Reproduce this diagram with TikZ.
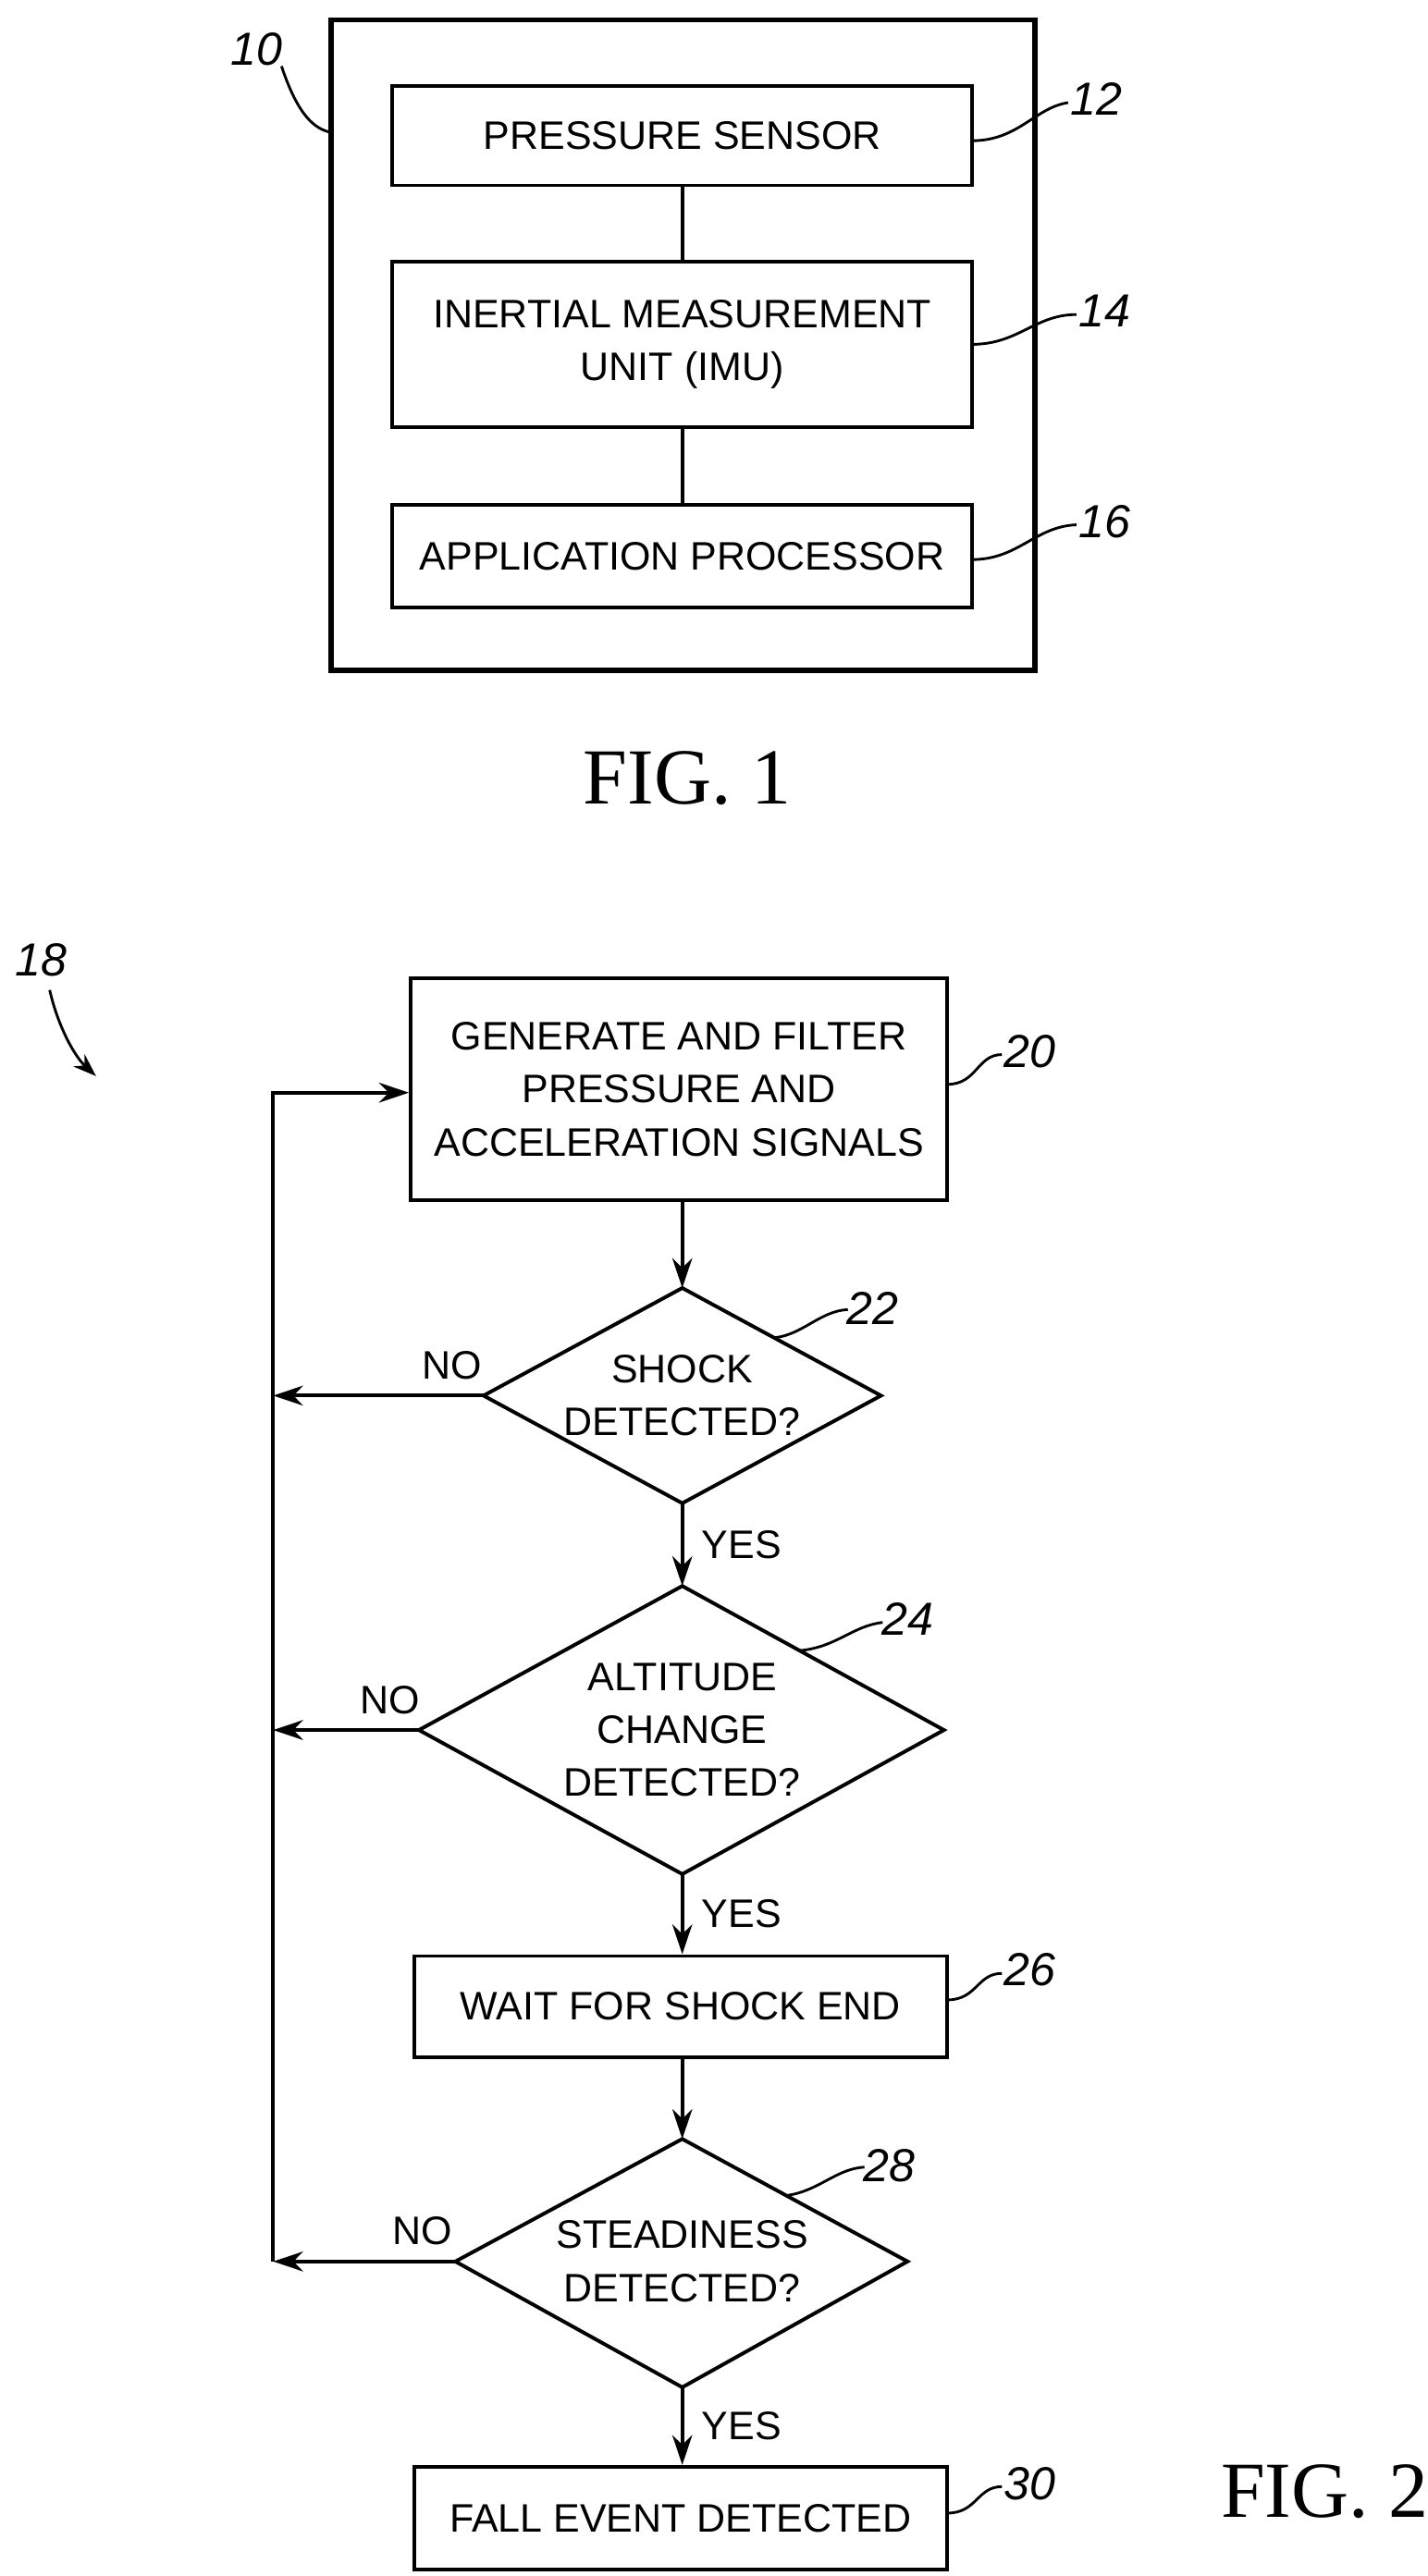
\documentclass[tikz,border=0pt]{standalone}
\usepackage{fontspec}
\setmainfont{Liberation Sans}
\newfontfamily\figfont{Liberation Serif}
\usetikzlibrary{arrows.meta}
\begin{document}
\begin{tikzpicture}[x=0.5pt,y=-0.5pt,
  every node/.style={font=\fontsize{12}{16}\selectfont},
  box/.style={draw,line width=1.1pt,inner sep=0},
  ln/.style={line width=1.1pt},
  ar/.style={line width=1.1pt,-{Stealth[length=9pt,width=6pt]}},
  num/.style={font=\fontsize{14}{16}\selectfont\itshape},
  lab/.style={font=\fontsize{12}{16}\selectfont},
  fig/.style={font=\fontsize{24}{28}\selectfont\figfont}]
\useasboundingbox (0,0) rectangle (862,1556);
% FIG 1
\draw[ln,line width=1.6pt] (200,12) rectangle (625,405);
\node[box,minimum width=175pt,minimum height=30pt] (ps) at (412,82) {PRESSURE SENSOR};
\node[box,minimum width=175pt,minimum height=50pt,align=center] (imu) at (412,208) {INERTIAL MEASUREMENT\\UNIT (IMU)};
\node[box,minimum width=175pt,minimum height=31pt] (ap) at (412,336) {APPLICATION PROCESSOR};
\draw[ln] (ps.south) -- (imu.north);
\draw[ln] (imu.south) -- (ap.north);
\node[num] (n10) at (155,30) {10};
\draw[ln,line width=0.8pt] (170,40) .. controls (180,70) and (190,78) .. (200,80);
\node[num] (n12) at (662,60) {12};
\draw[ln,line width=0.8pt] (587,85) .. controls (615,85) and (625,65) .. (645,62);
\node[num] (n14) at (667,188) {14};
\draw[ln,line width=0.8pt] (587,208) .. controls (615,208) and (625,190) .. (650,190);
\node[num] (n16) at (667,315) {16};
\draw[ln,line width=0.8pt] (587,338) .. controls (615,338) and (625,318) .. (650,317);
\node[fig] (f1) at (415,470) {FIG. 1};
% FIG 2
\node[num] (n18) at (25,580) {18};
\coordinate (a18) at (58,650);
\draw[line width=0.8pt,-{Stealth[length=7pt,width=5pt]}] (30,598) .. controls (35,620) and (45,638) .. (a18);
\node[box,minimum width=162pt,minimum height=67pt,align=center] (b20) at (410,658) {GENERATE AND FILTER\\PRESSURE AND\\ACCELERATION SIGNALS};
\node[num] (n20) at (622,635) {20};
\draw[ln,line width=0.8pt] (572,655) .. controls (590,655) and (590,637) .. (605,637);
% diamond 22
\coordinate (d22n) at (412,778); \coordinate (d22s) at (412,908);
\coordinate (d22w) at (292,843); \coordinate (d22e) at (532,843);
\draw[ln] (d22n) -- (d22e) -- (d22s) -- (d22w) -- cycle;
\node[align=center] (t22) at (412,843) {SHOCK\\DETECTED?};
\node[num] (n22) at (527,790) {22};
\draw[ln,line width=0.8pt] (468,808) .. controls (485,806) and (495,792) .. (512,791);
% diamond 24
\coordinate (d24n) at (412,958); \coordinate (d24s) at (412,1132);
\coordinate (d24w) at (253,1045); \coordinate (d24e) at (570,1045);
\draw[ln] (d24n) -- (d24e) -- (d24s) -- (d24w) -- cycle;
\node[align=center] (t24) at (412,1045) {ALTITUDE\\CHANGE\\DETECTED?};
\node[num] (n24) at (548,978) {24};
\draw[ln,line width=0.8pt] (483,997) .. controls (505,995) and (515,982) .. (533,980);
\node[box,minimum width=161pt,minimum height=30.5pt] (b26) at (411,1212) {WAIT FOR SHOCK END};
\node[num] (n26) at (622,1190) {26};
\draw[ln,line width=0.8pt] (572,1208) .. controls (590,1208) and (590,1192) .. (605,1192);
% diamond 28
\coordinate (d28n) at (412,1292); \coordinate (d28s) at (412,1442);
\coordinate (d28w) at (275,1366); \coordinate (d28e) at (548,1366);
\draw[ln] (d28n) -- (d28e) -- (d28s) -- (d28w) -- cycle;
\node[align=center] (t28) at (412,1366) {STEADINESS\\DETECTED?};
\node[num] (n28) at (537,1308) {28};
\draw[ln,line width=0.8pt] (476,1326) .. controls (495,1323) and (505,1310) .. (522,1309);
\node[box,minimum width=161pt,minimum height=31pt] (b30) at (411,1521) {FALL EVENT DETECTED};
\node[num] (n30) at (622,1500) {30};
\draw[ln,line width=0.8pt] (572,1518) .. controls (590,1518) and (590,1502) .. (605,1502);
\node[fig] (f2) at (800,1505) {FIG. 2};
% connectors
\draw[ar] (b20.south -| d22n) -- (d22n);
\draw[ar] (d22s) -- node[lab,right=2pt,pos=0.5] {YES} (d24n);
\draw[ar] (d24s) -- node[lab,right=2pt] {YES} (d24s |- b26.north);
\draw[ar] (d24s |- b26.south) -- (d28n);
\draw[ar] (d28s) -- node[lab,right=2pt] {YES} (d28s |- b30.north);
\coordinate (c22) at (165,843);
\coordinate (c24) at (165,1045);
\coordinate (c28) at (165,1366);
\coordinate (ctop) at (165,660);
\draw[ar] (d22w) -- node[lab,above=1pt,pos=0.15] {NO} (c22);
\draw[ar] (d24w) -- node[lab,above=1pt,pos=0.2] {NO} (c24);
\draw[ar] (d28w) -- node[lab,above=1pt,pos=0.18] {NO} (c28);
\draw[ar] (c28) -- (ctop) -- (b20.west |- ctop);
\end{tikzpicture}
\end{document}
